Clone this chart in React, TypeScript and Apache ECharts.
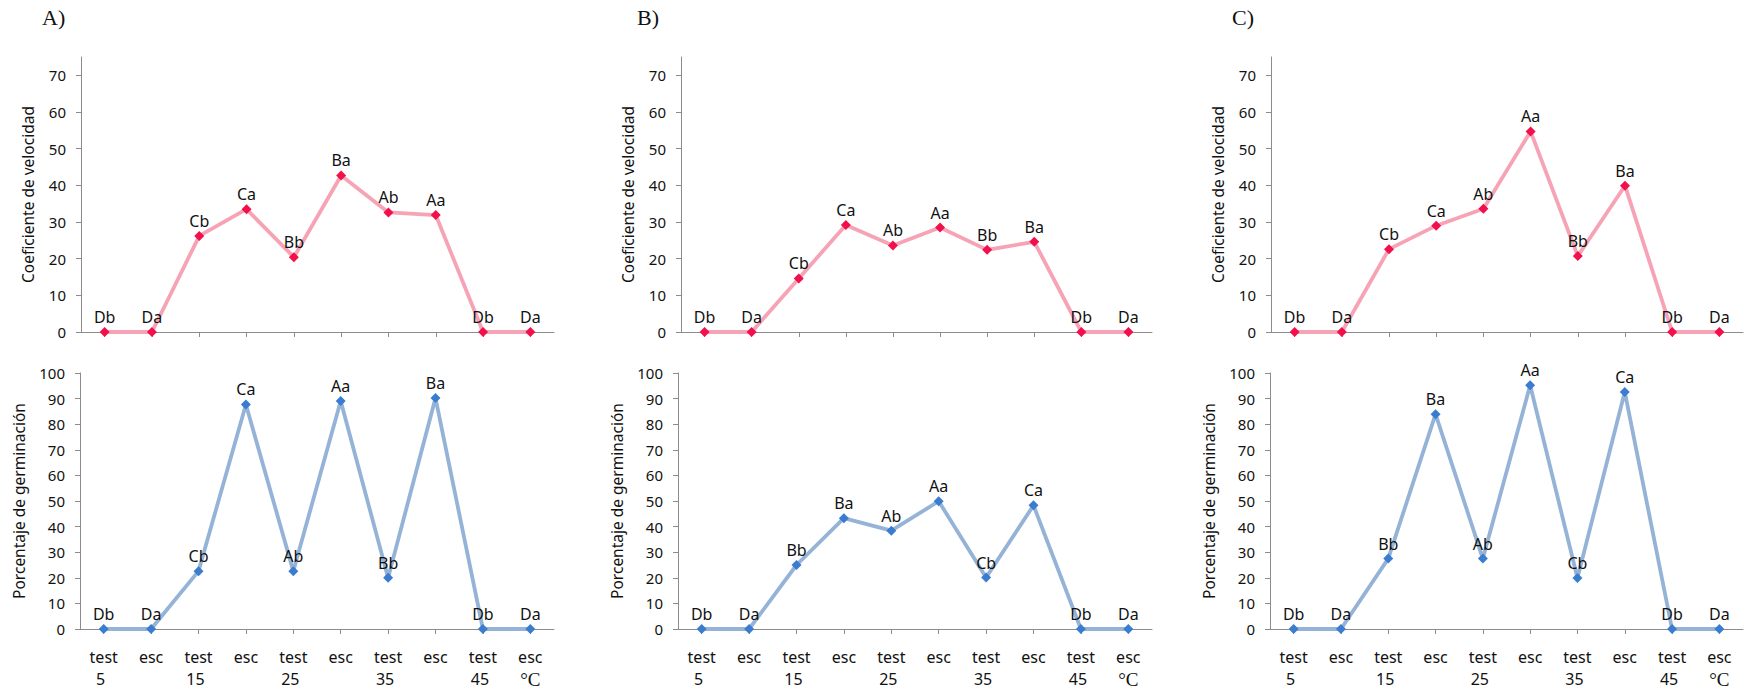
import React, { useEffect, useRef } from 'react';
import * as echarts from 'echarts';

// ---------- data ----------
const temps = ['5', '15', '25', '35', '45'];
const treatments = ['test', 'esc'];
const categories = temps.flatMap((t) => treatments.map((tr) => `${tr} ${t}`));
const unitLabel = '°C';

const velTicks = [0, 10, 20, 30, 40, 50, 60, 70];
const germTicks = [0, 10, 20, 30, 40, 50, 60, 70, 80, 90, 100];

const velA = [0, 0, 26.2, 33.5, 20.4, 42.7, 32.6, 31.9, 0, 0];
const velALetters = ['Db', 'Da', 'Cb', 'Ca', 'Bb', 'Ba', 'Ab', 'Aa', 'Db', 'Da'];
const germA = [0, 0, 22.6, 87.7, 22.6, 89.1, 20, 90.2, 0, 0];
const germALetters = ['Db', 'Da', 'Cb', 'Ca', 'Ab', 'Aa', 'Bb', 'Ba', 'Db', 'Da'];

const velB = [0, 0, 14.6, 29.2, 23.6, 28.5, 22.4, 24.6, 0, 0];
const velBLetters = ['Db', 'Da', 'Cb', 'Ca', 'Ab', 'Aa', 'Bb', 'Ba', 'Db', 'Da'];
const germB = [0, 0, 25, 43.3, 38.4, 49.9, 20.1, 48.3, 0, 0];
const germBLetters = ['Db', 'Da', 'Bb', 'Ba', 'Ab', 'Aa', 'Cb', 'Ca', 'Db', 'Da'];

const velC = [0, 0, 22.6, 29.0, 33.6, 54.7, 20.7, 39.9, 0, 0];
const velCLetters = ['Db', 'Da', 'Cb', 'Ca', 'Ab', 'Aa', 'Bb', 'Ba', 'Db', 'Da'];
const germC = [0, 0, 27.5, 83.9, 27.5, 95.2, 19.9, 92.6, 0, 0];
const germCLetters = ['Db', 'Da', 'Bb', 'Ba', 'Ab', 'Aa', 'Cb', 'Ca', 'Db', 'Da'];

const panelTitles = ['A)', 'B)', 'C)'];
const velName = 'Coeficiente de velocidad';
const germName = 'Porcentaje de germinación';

// ---------- layout / style ----------
const FONT = '"Noto Sans", "Open Sans", sans-serif';
const SERIF = '"Liberation Serif", "DejaVu Serif", serif';
const AXIS_COLOR = '#8c8c8c';
const TEXT_COLOR = '#111111';

const panels = [
  { top: { left: 81, width: 473 }, bottom: { left: 80, width: 474 }, title: 42 },
  { top: { left: 681, width: 471 }, bottom: { left: 678, width: 474 }, title: 637 },
  { top: { left: 1271, width: 472 }, bottom: { left: 1270, width: 473 }, title: 1232 },
];
const velValues = [velA, velB, velC];
const velLetters = [velALetters, velBLetters, velCLetters];
const germValues = [germA, germB, germC];
const germLetters = [germALetters, germBLetters, germCLetters];

function buildOption() {
  const grid: any[] = [];
  const xAxis: any[] = [];
  const yAxis: any[] = [];
  const series: any[] = [];
  const graphic: any[] = [];

  panels.forEach((p, pi) => {
    graphic.push({
      type: 'text',
      left: p.title,
      top: 6,
      style: { text: panelTitles[pi], font: `22px ${SERIF}`, fill: TEXT_COLOR },
    });

    const charts = [
      {
        box: { left: p.top.left, top: 57, width: p.top.width, height: 275 },
        values: velValues[pi],
        letters: velLetters[pi],
        max: 75,
        ticks: velTicks,
        name: velName,
        nameGap: 45,
        line: '#f7a3b6',
        marker: '#f2104c',
        labels: false,
      },
      {
        box: { left: p.bottom.left, top: 373, width: p.bottom.width, height: 256 },
        values: germValues[pi],
        letters: germLetters[pi],
        max: 100,
        ticks: germTicks,
        name: germName,
        nameGap: 53,
        line: '#95b3d7',
        marker: '#3a7dd0',
        labels: true,
      },
    ];

    charts.forEach((c) => {
      const gi = grid.length;
      grid.push({ ...c.box, containLabel: false });
      xAxis.push({
        type: 'category',
        gridIndex: gi,
        data: categories,
        boundaryGap: true,
        axisLine: { show: true, lineStyle: { color: AXIS_COLOR, width: 1 } },
        axisTick: { show: true, alignWithLabel: true, interval: 0, length: 5, lineStyle: { color: AXIS_COLOR } },
        splitLine: { show: false },
        axisLabel: {
          show: c.labels,
          interval: 0,
          margin: 17,
          formatter: (val: string, idx: number) => {
            const [tr, t] = val.split(' ');
            if (tr === 'test') return `{a|${tr}}\n{b|${t}}`;
            if (idx === categories.length - 1) return `{a|${tr}}\n{c|${unitLabel}}`;
            return `{a|${tr}}\n{b| }`;
          },
          rich: {
            a: { fontFamily: FONT, fontSize: 16, lineHeight: 22, color: TEXT_COLOR },
            b: { fontFamily: FONT, fontSize: 16, lineHeight: 22, color: TEXT_COLOR, padding: [0, 6, 0, 0] },
            c: { fontFamily: SERIF, fontSize: 19, lineHeight: 22, color: TEXT_COLOR },
          },
        },
      });
      yAxis.push({
        type: 'value',
        gridIndex: gi,
        min: 0,
        max: c.max,
        interval: 10,
        name: c.name,
        nameLocation: 'middle',
        nameGap: c.nameGap,
        nameTextStyle: { fontFamily: FONT, fontSize: 15.5, color: TEXT_COLOR },
        axisLine: { show: true, lineStyle: { color: AXIS_COLOR, width: 1 } },
        axisTick: { show: true, length: 5, lineStyle: { color: AXIS_COLOR }, customValues: c.ticks },
        splitLine: { show: false },
        axisLabel: {
          fontFamily: FONT,
          fontSize: 15,
          color: TEXT_COLOR,
          margin: 15,
          customValues: c.ticks,
        },
      });
      const letters = c.letters;
      series.push({
        type: 'line',
        xAxisIndex: gi,
        yAxisIndex: gi,
        data: c.values,
        symbol: 'diamond',
        symbolSize: 10,
        lineStyle: { color: c.line, width: 3.8 },
        itemStyle: { color: c.marker },
        label: {
          show: true,
          position: 'top',
          distance: 2,
          fontFamily: FONT,
          fontSize: 16,
          color: TEXT_COLOR,
          formatter: (prm: any) => letters[prm.dataIndex],
        },
      });
    });
  });

  return { animation: false, backgroundColor: '#ffffff', grid, xAxis, yAxis, series, graphic };
}

export default function App() {
  const ref = useRef<HTMLDivElement>(null);
  useEffect(() => {
    document.body.style.margin = '0';
    if (!ref.current) return;
    const chart = echarts.init(ref.current, undefined, { renderer: 'svg' });
    chart.setOption(buildOption() as any);
    return () => chart.dispose();
  }, []);
  return (
    <div
      ref={ref}
      style={{ position: 'fixed', left: 0, top: 0, width: 1744, height: 689, background: '#fff' }}
    />
  );
}
